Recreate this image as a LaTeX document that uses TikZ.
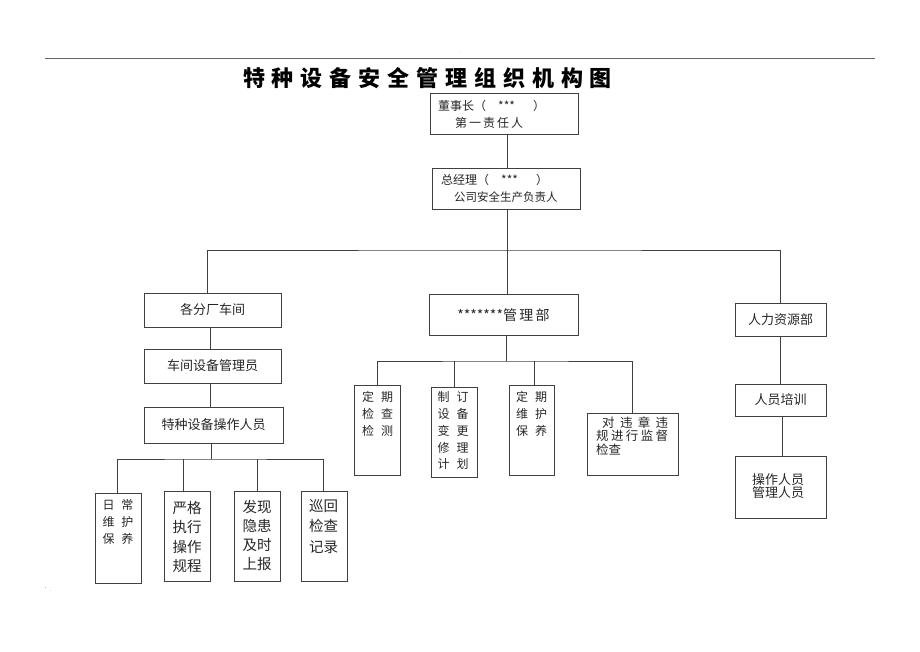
\documentclass[tikz,border=0pt]{standalone}
\usepackage{fontspec}
\setmainfont{Noto Sans CJK SC}
\begin{document}
\begin{tikzpicture}[x=1pt,y=-1pt,
  bx/.style={draw=black!75, line width=0.9pt, inner sep=0pt, rectangle},
  ln/.style={draw=black!75, line width=0.8pt},
  tx/.style={inner sep=0pt, text=black!85, align=center},
  f12/.style={font=\fontsize{12}{17}\selectfont},
  f13/.style={font=\fontsize{13}{14}\selectfont},
  f15/.style={font=\fontsize{14.5}{19.5}\selectfont}]
\path[use as bounding box] (0,0) rectangle (920,651);
\draw[black!60, line width=0.8pt] (45,58) -- (875,58);
\node[inner sep=0, font=\fontsize{4}{4}\selectfont, text=black!60] (dot1) at (460,53) {.};
\node[inner sep=0, font=\fontsize{5}{5}\selectfont, text=black!60] (dot2) at (48,589) {'.};
% title
\node[inner sep=0, font=\fontsize{22}{24}\selectfont\bfseries] (title) at (427.5,78)
  {\makebox[369pt][s]{特\hfill 种\hfill 设\hfill 备\hfill 安\hfill 全\hfill 管\hfill 理\hfill 组\hfill 织\hfill 机\hfill 构\hfill 图}};
% top boxes
\node[bx, minimum width=148, minimum height=41] (d1) at (504,113.5) {};
\node[tx, f12, anchor=west] (d1a) at (438,106) {董事长（\hspace{12pt}***\hspace{18pt}）};
\node[tx, f12, anchor=west] (d1b) at (455,123) {第\,一\,责\,任\,人};
\node[bx, minimum width=148, minimum height=41] (d2) at (506,188.5) {};
\node[tx, f12, anchor=west] (d2a) at (441,180) {总经理（\hspace{12pt}***\hspace{18pt}）};
\node[tx, font=\fontsize{11.5}{13}\selectfont, anchor=west] (d2b) at (454,197) {公司安全生产负责人};
% level 2
\node[bx, minimum width=137, minimum height=34] (a1) at (212.5,310) {};
\node[tx, f13] (a1t) at (212.5,310) {各分厂车间};
\node[bx, minimum width=149, minimum height=41] (m) at (503.5,314.5) {};
\node[tx, font=\fontsize{14}{16}\selectfont] (mt) at (503.5,315) {*******管\,理\,部};
\node[bx, minimum width=91, minimum height=33] (r1) at (780.5,319.5) {};
\node[tx, f13] (r1t) at (780.5,319.5) {人力资源部};
% left column
\node[bx, minimum width=137, minimum height=34] (a2) at (212.5,366) {};
\node[tx, f13] (a2t) at (212.5,366) {车间设备管理员};
\node[bx, minimum width=139, minimum height=36] (a3) at (213.5,425) {};
\node[tx, f13] (a3t) at (213.5,425) {特种设备操作人员};
% right column
\node[bx, minimum width=91, minimum height=32] (r2) at (780.5,400) {};
\node[tx, f13] (r2t) at (780.5,400) {人员培训};
\node[bx, minimum width=91, minimum height=62] (r3) at (780.5,487) {};
\node[tx, font=\fontsize{13}{13}\selectfont] (r3t) at (778,486.5) {操作人员\\管理人员};
% middle sub boxes
\node[bx, minimum width=46, minimum height=90] (m1) at (377,430) {};
\node[tx, f12, anchor=north] (m1t) at (377.5,391) {定\hspace{7pt}期\\检\hspace{7pt}查\\检\hspace{7pt}测};
\node[bx, minimum width=46, minimum height=90] (m2) at (454,432) {};
\node[tx, font=\fontsize{12}{16.8}\selectfont, anchor=north] (m2t) at (453,391.5) {制\hspace{7pt}订\\设\hspace{7pt}备\\变\hspace{7pt}更\\修\hspace{7pt}理\\计\hspace{7pt}划};
\node[bx, minimum width=45, minimum height=90] (m3) at (531.5,430) {};
\node[tx, f12, anchor=north] (m3t) at (531.5,391) {定\hspace{7pt}期\\维\hspace{7pt}护\\保\hspace{7pt}养};
\node[bx, minimum width=91, minimum height=62] (m4) at (632.5,444) {};
\node[tx, font=\fontsize{12.5}{13.5}\selectfont, anchor=north west, align=left] (m4t) at (596,416.5)
  {\makebox[72pt][s]{\hspace{6pt}对\hfill 违\hfill 章\hfill 违}\\\makebox[72pt][s]{规\hfill 进\hfill 行\hfill 监\hfill 督}\\检查};
% bottom boxes
\node[bx, minimum width=46, minimum height=90] (b1) at (118,538) {};
\node[tx, f12, anchor=north] (b1t) at (118,499.5) {日\hspace{7pt}常\\维\hspace{7pt}护\\保\hspace{7pt}养};
\node[bx, minimum width=46, minimum height=90] (b2) at (187,536) {};
\node[tx, font=\fontsize{14.5}{19.3}\selectfont, anchor=north] (b2t) at (187,501) {严格\\执行\\操作\\规程};
\node[bx, minimum width=46, minimum height=90] (b3) at (257,536) {};
\node[tx, font=\fontsize{14.5}{19}\selectfont, anchor=north] (b3t) at (257,500) {发现\\隐患\\及时\\上报};
\node[bx, minimum width=46, minimum height=90] (b4) at (324,536) {};
\node[tx, font=\fontsize{14.5}{20.5}\selectfont, anchor=north] (b4t) at (323.5,499) {巡回\\检查\\记录};
% connectors
\coordinate (bus) at (506,250);
\coordinate (mbus) at (506,361);
\coordinate (abus) at (211,459);
\draw[ln] ([xshift=3pt]d1.south) -- ([xshift=3pt]d1.south |- d2.north);
\draw[ln] ([xshift=1pt]d2.south) -- ([xshift=1pt]d2.south |- m.north);
\draw[ln] ([xshift=-5pt]a1.north) |- (bus) -| (r1.north);
\draw[ln] ([xshift=2.5pt]m.south) -- ([xshift=2.5pt]m.south |- mbus);
\draw[ln] (m1.north) |- (mbus) -| (m4.north);
\draw[ln] (m2.north) -- (m2.north |- mbus);
\draw[ln] ([xshift=3pt]m3.north) -- ([xshift=3pt]m3.north |- mbus);
\draw[ln] ([xshift=-2pt]a1.south) -- ([xshift=-2pt]a1.south |- a2.north);
\draw[ln] ([xshift=-2pt]a2.south) -- ([xshift=-2pt]a2.south |- a3.north);
\draw[ln] ([xshift=-2.5pt]a3.south) -- (abus);
\draw[ln] ([xshift=-1pt]b1.north) |- (abus) -| ([xshift=-1pt]b4.north);
\draw[ln] ([xshift=-4pt]b2.north) -- ([xshift=-4pt]b2.north |- abus);
\draw[ln] (b3.north) -- (b3.north |- abus);
\draw[ln] (r1) -- (r2);
\draw[ln] ([xshift=2pt]r2.south) -- ([xshift=2pt]r3.north);
\end{tikzpicture}
\end{document}
